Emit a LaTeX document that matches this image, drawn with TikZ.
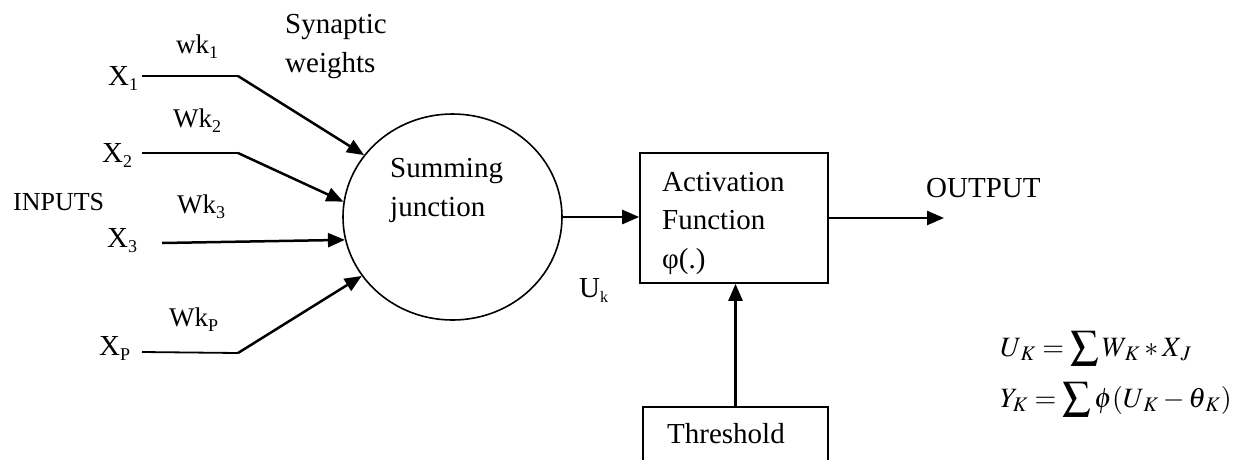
\documentclass[tikz,border=0pt]{standalone}
\usepackage{mathptmx}
\usepackage[no-math]{fontspec}
\setmainfont{Liberation Serif}
\usetikzlibrary{arrows.meta,shapes.geometric}

% lowered, smaller index text (X_1, Wk_2, U_k ...)
\newcommand{\lowix}[2][18]{\raisebox{-5pt}{\fontsize{#1}{#1}\selectfont #2}}

\tikzset{
  txt/.style={inner sep=0pt, anchor=base west, font=\fontsize{29}{38.5}\selectfont},
  % multi-line texts are placed by the baseline of their last line
  mtxt/.style={txt, align=left},
  wlbl/.style={txt, font=\fontsize{27}{30}\selectfont},
  eqn/.style={inner sep=0pt, anchor=base west, font=\fontsize{28}{32}\selectfont},
  outline/.style={draw, line width=1.6pt, inner sep=0pt},
  wire/.style={line width=1.8pt},
  arr/.style={line width=2.5pt, -{Triangle[length=17pt,width=14pt]}},
}

\begin{document}
\begin{tikzpicture}[x=1pt,y=-1pt]
\clip (0,0) rectangle (1250,459);

% blocks
\node[outline, ellipse, minimum width=219pt, minimum height=206pt] (sum) at (452.5,217) {};
\node[outline, rectangle, minimum width=188pt, minimum height=130pt] (act) at (734,218) {};
\node[outline, rectangle, anchor=north, minimum width=185pt, minimum height=100pt] (thr) at (735.5,406) {};

% block texts
\node[mtxt] (sumtext) at (390,216) {Summing\\junction};
\node[mtxt] (acttext) at (662,268) {Activation\\Function\\φ(.)};
\node[txt] (thrtext) at (667,443) {Threshold};

% inputs and weights
\node[txt] (x1) at (108,85) {X\lowix{1}};
\node[txt] (x2) at (102,162) {X\lowix{2}};
\node[txt] (x3) at (107,247) {X\lowix{3}};
\node[txt] (xp) at (99,355) {X\lowix{P}};
\node[wlbl] (w1) at (176,53) {wk\lowix{1}};
\node[wlbl] (w2) at (173,127) {Wk\lowix{2}};
\node[wlbl] (w3) at (177,213) {Wk\lowix{3}};
\node[wlbl] (wp) at (169,326) {Wk\lowix{P}};
\node[txt, font=\fontsize{26}{30}\selectfont] (inputs) at (13,210) {INPUTS};
\node[mtxt] (syn) at (285,72) {Synaptic\\weights};

\coordinate (a1) at (142,76);  \coordinate (b1) at (238,76);
\coordinate (a2) at (142,153); \coordinate (b2) at (238,153);
\coordinate (a3) at (162,243);
\coordinate (ap) at (142,352); \coordinate (bp) at (238,353);

\draw[wire] (a1) -- (b1);
\draw[arr]  (b1) -- (sum.145);
\draw[wire] (a2) -- (b2);
\draw[arr]  (b2) -- (sum.172);
\draw[arr]  (a3) -- (sum.192);
\draw[wire] (ap) -- (bp);
\draw[arr]  (bp) -- (sum.213);

% summing junction -> activation -> output
\draw[arr] (sum.east) -- (sum.east -| act.west);
\node[txt] (uk) at (579,297) {U\lowix[16]{k}};
\coordinate (out) at (944,218);
\draw[arr] (act.east) -- (out);
\node[txt] (outlbl) at (926,197) {OUTPUT};
\draw[arr] (thr.north) -- (thr.north |- act.south);

% equations
\node[eqn] (eq1) at (1000,356)
  {$\displaystyle U_{\,K} = \sum W_{\,K} * X_{\,J}$};
\node[eqn] (eq2) at (1000,407)
  {$\displaystyle Y_{K} = \sum \phi(U_{\,K} - \theta_{\,K})$};
\end{tikzpicture}
\end{document}
